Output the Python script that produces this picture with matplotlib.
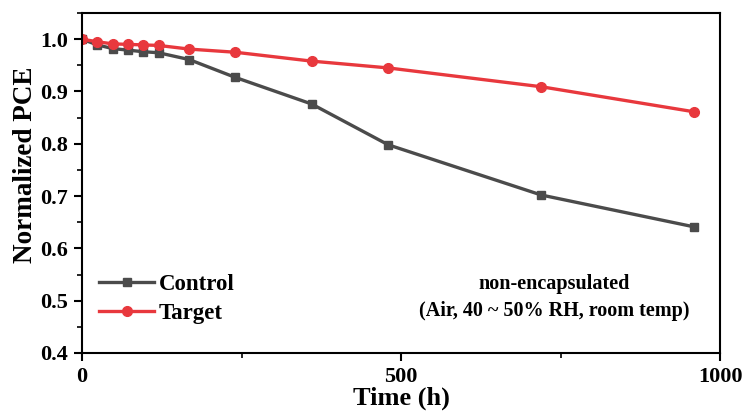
import matplotlib.pyplot as plt
from matplotlib.ticker import MultipleLocator

hours = [0, 24, 48, 72, 96, 120, 168, 240, 360, 480, 720, 960]
control = [1.0, 0.989, 0.982, 0.979, 0.976, 0.974, 0.961, 0.927, 0.876, 0.798, 0.702, 0.641]
target = [1.0, 0.995, 0.991, 0.990, 0.989, 0.988, 0.981, 0.975, 0.958, 0.945, 0.909, 0.861]

plt.rcParams['font.family'] = ['Liberation Serif', 'DejaVu Serif']
plt.rcParams['font.weight'] = 'bold'

fig = plt.figure(figsize=(7.47, 4.17), dpi=100)
ax = fig.add_axes([82 / 747, 1 - 353 / 417, (720 - 82) / 747, (353 - 13) / 417])

ax.plot(hours, control, color='#4b4b4b', lw=2.4, marker='s', ms=6, label='Control')
ax.plot(hours, target, color='#e8383d', lw=2.4, marker='o', ms=7, label='Target')

ax.set_xlim(0, 1000)
ax.set_ylim(0.4, 1.05)
ax.xaxis.set_major_locator(MultipleLocator(500))
ax.xaxis.set_minor_locator(MultipleLocator(250))
ax.yaxis.set_major_locator(MultipleLocator(0.1))
ax.yaxis.set_minor_locator(MultipleLocator(0.05))
ax.tick_params(which='major', direction='out', length=6, width=1.5, labelsize=16, pad=4)
ax.tick_params(which='minor', direction='out', length=3.5, width=1.2)
for s in ax.spines.values():
    s.set_linewidth(1.5)

ax.set_xlabel('Time (h)', fontsize=19, fontweight='bold', labelpad=0)
ax.set_ylabel('Normalized PCE', fontsize=19.5, fontweight='bold')
ax.yaxis.set_label_coords(-0.069, 0.553)

ax.legend(loc='center left', bbox_to_anchor=(0.027, 0.159), frameon=False, fontsize=16.5,
          borderpad=0, borderaxespad=0, handlelength=2.4, handletextpad=0.2, labelspacing=0.37)

ax.text((554 - 82) / 638, (353 - 297.5) / 340, 'non-encapsulated\n(Air, 40 ~ 50% RH, room temp)',
        transform=ax.transAxes, ha='center', va='center', fontsize=14.5,
        fontweight='bold', linespacing=1.45)

fig.savefig('out.png', dpi=100)
